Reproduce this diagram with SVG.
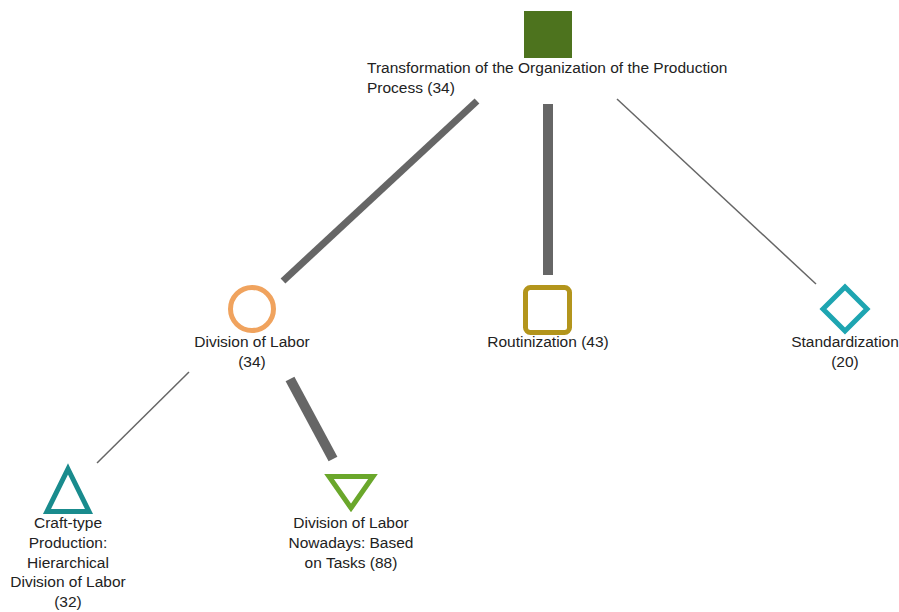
<svg xmlns="http://www.w3.org/2000/svg" width="899" height="612" viewBox="0 0 899 612">
  <style>
    text { font-family: "Liberation Sans", Arial, Helvetica, sans-serif; font-size: 15.5px; fill: #222; }
    .mid { text-anchor: middle; }
    .edge { stroke: #666; stroke-linecap: butt; fill: none; }
  </style>
  <rect width="899" height="612" fill="#fff"/>

  <g id="connectors">
    <line class="edge" x1="477" y1="101" x2="283" y2="281" stroke-width="7"/>
    <line class="edge" x1="548" y1="104" x2="548" y2="275" stroke-width="10"/>
    <line class="edge" x1="617" y1="99" x2="816" y2="284" stroke-width="1.5"/>
    <line class="edge" x1="189" y1="372" x2="97" y2="463" stroke-width="1.5"/>
    <line class="edge" x1="290" y1="379" x2="333" y2="459" stroke-width="10"/>
  </g>

  <g id="node-transformation">
    <rect x="524" y="11" width="48" height="47" fill="#4d731e"/>
    <text x="367" y="73">Transformation of the Organization of the Production</text>
    <text x="367" y="93">Process (34)</text>
  </g>

  <g id="node-division">
    <circle cx="252" cy="309" r="21.5" fill="none" stroke="#f0a35e" stroke-width="5"/>
    <text class="mid" x="252" y="347">Division of Labor</text>
    <text class="mid" x="252" y="367">(34)</text>
  </g>

  <g id="node-routinization">
    <rect x="525.5" y="287.5" width="44" height="45" rx="5" fill="none" stroke="#b3951c" stroke-width="5"/>
    <text class="mid" x="548" y="347">Routinization (43)</text>
  </g>

  <g id="node-standardization">
    <polygon points="845,287 867,309 845,331 823,309" fill="none" stroke="#1ea5b1" stroke-width="5" stroke-linejoin="miter"/>
    <text class="mid" x="845" y="347">Standardization</text>
    <text class="mid" x="845" y="367">(20)</text>
  </g>

  <g id="node-craft">
    <polygon points="68,469 89,511.5 47,511.5" fill="none" stroke="#198b8d" stroke-width="5" stroke-linejoin="miter"/>
    <text class="mid" x="68" y="528">Craft-type</text>
    <text class="mid" x="68" y="548">Production:</text>
    <text class="mid" x="68" y="568">Hierarchical</text>
    <text class="mid" x="68" y="587">Division of Labor</text>
    <text class="mid" x="68" y="607">(32)</text>
  </g>

  <g id="node-nowadays">
    <polygon points="329,476.5 373,476.5 351,508" fill="none" stroke="#6aa72b" stroke-width="5" stroke-linejoin="miter"/>
    <text class="mid" x="351" y="528">Division of Labor</text>
    <text class="mid" x="351" y="548">Nowadays: Based</text>
    <text class="mid" x="351" y="568">on Tasks (88)</text>
  </g>
</svg>
